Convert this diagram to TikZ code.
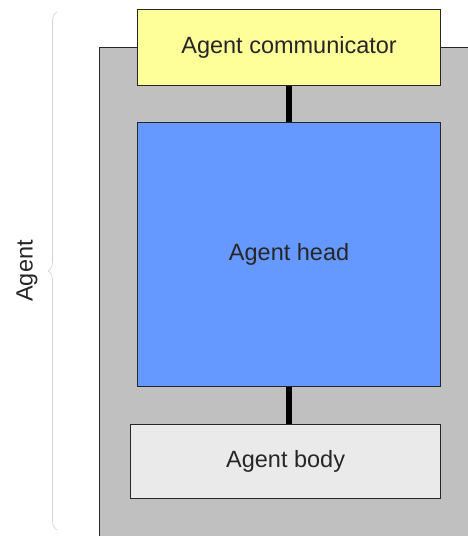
\documentclass[tikz,border=0pt]{standalone}
\usepackage{fontspec}
\setmainfont{Liberation Sans}
\usetikzlibrary{decorations.pathreplacing}
\definecolor{commyellow}{HTML}{FFFF99}
\definecolor{headblue}{HTML}{6699FF}
\definecolor{framegray}{HTML}{C0C0C0}
\definecolor{bodygray}{HTML}{EAEAEA}
\begin{document}
\begin{tikzpicture}[x=1pt,y=-1pt,
  lbltext/.style={font=\fontsize{23.5}{28}\selectfont,text=black!85},
  box/.style={draw=black!85,line width=1.2pt,inner sep=0pt,lbltext},
  link/.style={line width=6pt,black}]
\useasboundingbox (0,0) rectangle (468,536);
% outer agent frame (runs off the right and bottom edges)
\node[draw=black!85,line width=1.4pt,fill=framegray,inner sep=0pt,minimum width=400pt,minimum height=520pt,anchor=north west] (frame) at (99,47) {};
\node[box,fill=commyellow,minimum width=303pt,minimum height=76pt,anchor=north west] (comm) at (137,9) {Agent communicator};
\node[box,fill=headblue,minimum width=303pt,minimum height=264pt,anchor=north west] (head) at (137,122) {Agent head};
\node[box,fill=bodygray,minimum width=310pt,minimum height=74pt,anchor=north west] (body) at (130,424) {Agent body};
\draw[link] (comm.south -| 289,0) -- (head.north -| 289,0);
\draw[link] (head.south -| 289,0) -- (body.north -| 289,0);
% brace grouping the whole agent
\coordinate (btop) at (57,12);
\coordinate (bbot) at (57,530);
\draw[gray!35,line width=0.6pt,decorate,decoration={brace,amplitude=9pt}] (bbot) -- (btop);
\node[rotate=90,lbltext] (lbl) at (27,271) {Agent};
\end{tikzpicture}
\end{document}
